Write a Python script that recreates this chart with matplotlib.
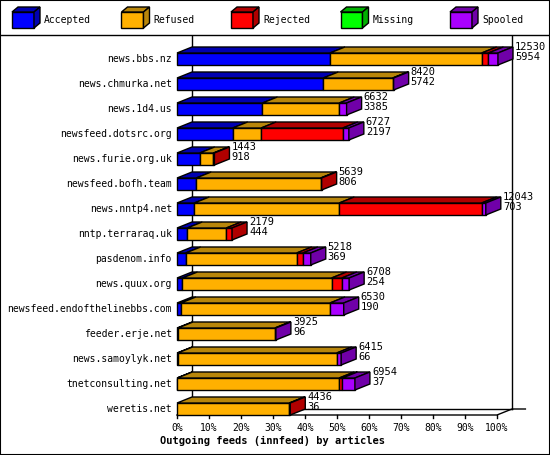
import numpy as np
import matplotlib.pyplot as plt
from matplotlib.patches import Polygon

plt.rcParams['font.family'] = ['DejaVu Sans Mono']

# --- Data (percent of offered articles) ---
feeds = ["news.bbs.nz", "news.chmurka.net", "news.1d4.us", "newsfeed.dotsrc.org",
         "news.furie.org.uk", "newsfeed.bofh.team", "news.nntp4.net", "nntp.terraraq.uk",
         "pasdenom.info", "news.quux.org", "newsfeed.endofthelinebbs.com",
         "feeder.erje.net", "news.samoylyk.net", "tnetconsulting.net", "weretis.net"]
offered = [12530, 8420, 6632, 6727, 1443, 5639, 12043, 2179, 5218, 6708, 6530, 3925, 6415, 6954, 4436]
accepted_n = [5954, 5742, 3385, 2197, 918, 806, 703, 444, 369, 254, 190, 96, 66, 37, 36]
accepted = [47.8, 45.7, 26.7, 17.4, 7.1, 6.0, 5.4, 3.2, 2.7, 1.7, 1.2, 0.3, 0.2, 0.1, 0.0]
refused = [47.4, 21.7, 24.0, 8.9, 4.3, 38.9, 45.3, 12.2, 34.7, 46.6, 46.6, 30.3, 49.7, 50.6, 35.1]
rejected = [2.1, 0.0, 0.0, 25.5, 0.3, 0.3, 44.5, 1.8, 1.9, 3.2, 0.0, 0.0, 0.0, 1.0, 0.3]
missing = [0.0] * 15
spooled = [3.0, 0.3, 2.3, 1.9, 0.0, 0.0, 1.3, 0.0, 2.5, 2.3, 4.3, 0.3, 1.4, 3.9, 0.0]

series = ["Accepted", "Refused", "Rejected", "Missing", "Spooled"]
front_col = ["#0000ff", "#ffb000", "#ff0000", "#00ff00", "#aa00ff"]
dark_col = ["#0000b0", "#b8860b", "#b00000", "#00b000", "#7000a8"]
values = [accepted, refused, rejected, missing, spooled]

W, H = 550, 455
FS = 7
fig = plt.figure(figsize=(W / 100, H / 100), dpi=100)
ax = fig.add_axes([0, 0, 1, 1])
# x in percent, y in row index; 0% -> px 177, 100% -> px 497, rows 25px apart
PX = 3.2
ax.set_xlim(-177 / PX, (W - 177) / PX)
ax.set_ylim((H - 59) / 25, -59 / 25)
ax.axis('off')

dx = 15 / PX      # depth in percent
dy = -6 / 25      # depth in rows
bh = 0.48
px = lambda p: 1 / PX * p  # px -> data x
py = lambda p: p / 25      # px -> data y

def poly(pts, fc):
    ax.add_patch(Polygon(pts, closed=True, fc=fc, ec='black', lw=1, zorder=3))

# frame and walls
fr = dict(color='black', lw=1, zorder=1)
ax.plot([-177 / PX, (W - 177) / PX], [py(35 - 59)] * 2, **fr)
ax.plot([dx, dx], [py(36 - 59), 14 + bh / 2 + dy], **fr)
ax.plot([100 + dx] * 2, [py(36 - 59), 14 + bh / 2 + dy], **fr)
ax.plot([0, 100, 100 + dx, 100 + 2 * dx - 0.5], [14 + bh / 2, 14 + bh / 2, 14 + bh / 2 + dy, 14 + bh / 2 + dy], **fr)
ax.plot([dx, 100 + dx], [14 + bh / 2 + dy] * 2, **fr)
for k in range(11):
    ax.plot([10 * k] * 2, [14 + bh / 2, 14 + bh / 2 + py(3)], **fr)
    ax.text(10 * k, 14 + bh / 2 + py(13), f"{10 * k}%", ha='center', va='center', fontsize=FS)
ax.text(px(273 - 177), py(441 - 59), "Outgoing feeds (innfeed) by articles",
        ha='center', va='center', fontsize=FS + 0.5, fontweight='bold')

for i, name in enumerate(feeds):
    y0, y1 = i - bh / 2, i + bh / 2
    left = 0.0
    last = None
    for s in range(5):
        v = values[s][i]
        if v <= 0:
            continue
        r = left + v
        poly([(left, y1), (r, y1), (r, y0), (left, y0)], front_col[s])
        poly([(left, y0), (r, y0), (r + dx, y0 + dy), (left + dx, y0 + dy)], dark_col[s])
        left = r
        last = s
    poly([(left, y0), (left + dx, y0 + dy), (left + dx, y1 + dy), (left, y1)], dark_col[last])
    ax.text(-px(5), i, name, ha='right', va='center', fontsize=FS)
    ax.text(left + dx + px(2), i - py(7), f"{offered[i]}\n{accepted_n[i]}",
            ha='left', va='center', fontsize=FS + 0.5, linespacing=0.95, zorder=4)

# legend
for s, lab in enumerate(series):
    x0 = px(12 + 109.5 * s - 177)
    yt, yb = py(12 - 59), py(28 - 59)
    w, d, dd = px(22), px(6), py(-5)
    poly([(x0, yb), (x0 + w, yb), (x0 + w, yt), (x0, yt)], front_col[s])
    poly([(x0, yt), (x0 + w, yt), (x0 + w + d, yt + dd), (x0 + d, yt + dd)], dark_col[s])
    poly([(x0 + w, yt), (x0 + w + d, yt + dd), (x0 + w + d, yb + dd), (x0 + w, yb)], dark_col[s])
    ax.text(x0 + w + d + px(4), (yt + yb) / 2, lab, ha='left', va='center', fontsize=FS)

fig.patches.append(plt.Rectangle((0, 0), 1, 1, transform=fig.transFigure, fill=False,
                                 ec='black', lw=1.5))
fig.savefig("out.png", dpi=100)
